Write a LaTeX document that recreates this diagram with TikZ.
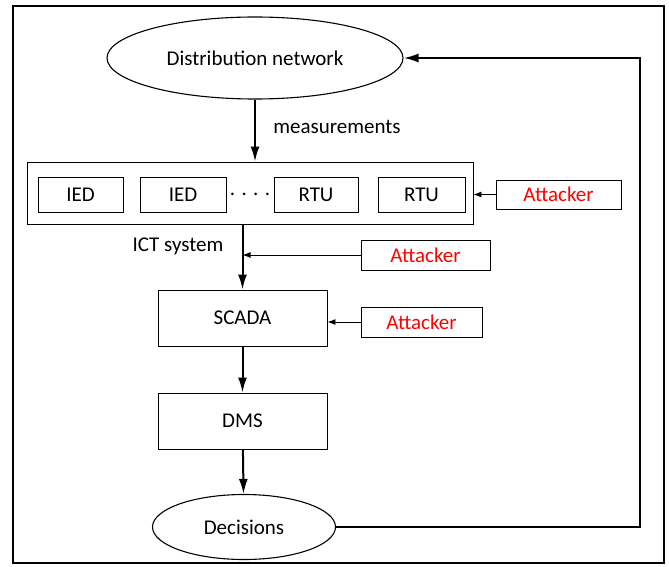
\documentclass[tikz,border=0pt]{standalone}
\usepackage{fontspec}
\setmainfont{Carlito}
\usetikzlibrary{shapes.geometric,arrows.meta}
\begin{document}
\begin{tikzpicture}[x=1pt,y=-1pt,font=\fontsize{21}{24}\selectfont,
    box/.style={draw,line width=0.9pt,inner sep=0pt},
    oval/.style={draw,ellipse,line width=1.1pt,inner sep=0pt},
    attbox/.style={box,text=red},
    flow/.style={line width=2pt,-{Latex[length=15pt,width=9pt]}},
    hit/.style={line width=0.9pt,-{Latex[length=8pt,width=6pt]}}]
    \useasboundingbox (0,0) rectangle (669,567);
    \draw[line width=1.8pt] (13,6) rectangle (664,563);

    \node[oval,minimum width=296,minimum height=82] (net) at (255,58) {Distribution network};
    \node (meas) at (337,127) {measurements};

    \node[box,minimum width=446,minimum height=62] (ict) at (250,193) {};
    \node[box,minimum width=85,minimum height=35] (ied1) at (80.5,194.5) {IED};
    \node[box,minimum width=86,minimum height=35] (ied2) at (183,194.5) {IED};
    \node (dots) at (250,194) {. . . .};
    \node[box,minimum width=84,minimum height=35] (rtu1) at (316,194.5) {RTU};
    \node[box,minimum width=87,minimum height=35] (rtu2) at (421.5,194.5) {RTU};
    \node[attbox,minimum width=125,minimum height=29] (att1) at (558.5,194.5) {Attacker};

    \node (ictname) at (178,246) {ICT system};
    \node[attbox,minimum width=129,minimum height=30] (att2) at (425.5,255) {Attacker};

    \node[box,minimum width=169,minimum height=56] (scada) at (242.5,318) {SCADA};
    \node[attbox,minimum width=121,minimum height=30] (att3) at (421.5,322) {Attacker};
    \node[box,minimum width=169,minimum height=56] (dms) at (242.5,421) {DMS};
    \node[oval,minimum width=183,minimum height=65] (dec) at (244,527) {Decisions};
    \coordinate (fb) at (640,0);

    \draw[flow] (net.south) -- (net.south |- ict.north);
    \draw[hit] (att1.west) -- (att1.west -| ict.east);
    \draw[flow] (ict.south -| scada) -- (scada.north);
    \draw[hit] (att2.west) -- (att2.west -| scada);
    \draw[hit] (att3.west) -- (att3.west -| scada.east);
    \draw[flow] (scada) -- (dms);
    \draw[flow] (dms) -- (dec);
    \draw[flow] (dec.east) -| (fb |- net.east) -- (net.east);
\end{tikzpicture}
\end{document}
